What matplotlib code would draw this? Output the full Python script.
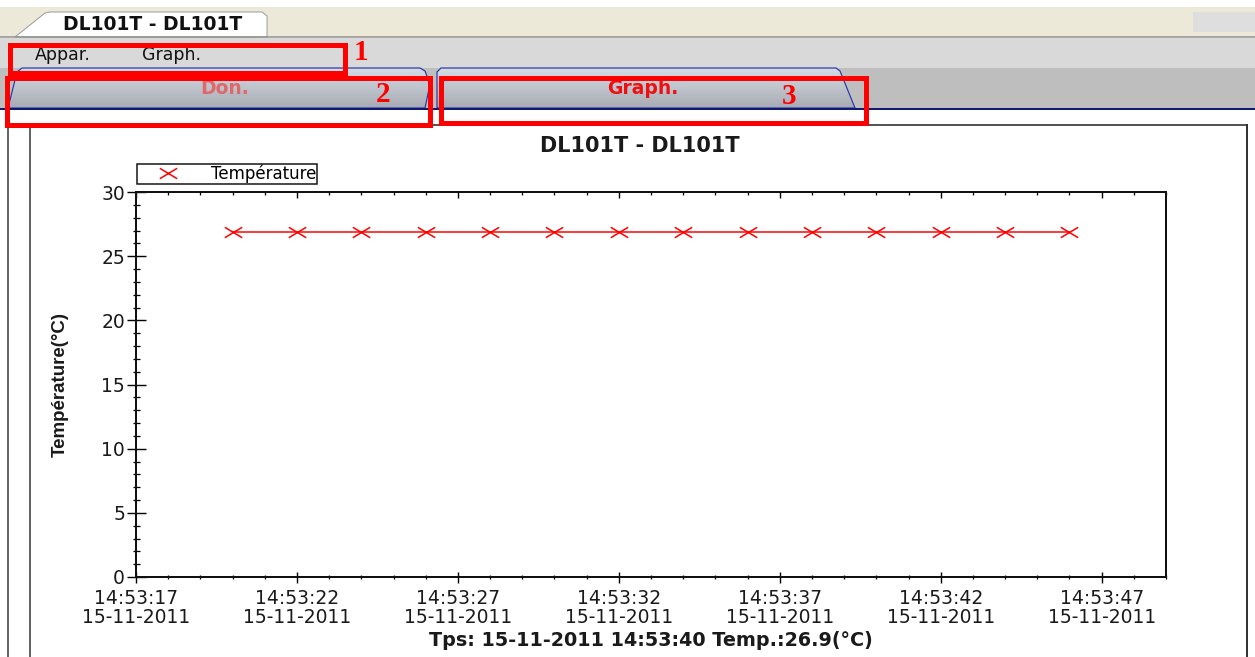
import numpy as np
import matplotlib
matplotlib.use("Agg")
import matplotlib.pyplot as plt
from matplotlib.patches import Rectangle, Polygon
from matplotlib.path import Path
from matplotlib.lines import Line2D
from matplotlib.ticker import FixedLocator, FixedFormatter, MultipleLocator

# ---------------- data ----------------
window_title = "DL101T - DL101T"
chart_title = "DL101T - DL101T"
date_str = "15-11-2011"
times = ["14:53:20", "14:53:22", "14:53:24", "14:53:26", "14:53:28", "14:53:30",
         "14:53:32", "14:53:34", "14:53:36", "14:53:38", "14:53:40", "14:53:42",
         "14:53:44", "14:53:46"]
temps = [26.9, 26.9, 26.9, 26.9, 26.9, 26.9, 26.9, 26.9, 26.9, 26.9, 26.9, 26.9,
         26.9, 26.9]
tick_times = ["14:53:17", "14:53:22", "14:53:27", "14:53:32", "14:53:37",
              "14:53:42", "14:53:47"]
x_range = ["14:53:17", "14:53:49"]
y_ticks = [0, 5, 10, 15, 20, 25, 30]
series_name = "Température"
y_label = "Température(°C)"
status_text = "Tps: 15-11-2011 14:53:40 Temp.:26.9(°C)"
menu_items = ["Appar.", "Graph."]
tab_names = ["Don.", "Graph."]
callouts = ["1", "2", "3"]


def to_sec(t):
    h, m, s = map(int, t.split(":"))
    return h * 3600 + m * 60 + s


W, H = 1255, 657
PX = 0.72  # points per pixel at 100 dpi
fig = plt.figure(figsize=(W / 100, H / 100), dpi=100)
fig.patch.set_facecolor("white")

# ---------------- UI background ----------------
bg = fig.add_axes([0, 0, 1, 1], zorder=0)
bg.set_xlim(0, W)
bg.set_ylim(H, 0)
bg.axis("off")

bg.add_patch(Rectangle((0, 7), W, 30, fc="#ECE9D8", ec="none"))
bg.plot([0, W], [36.5, 36.5], color="#8E8E8E", lw=1.5 * PX)
bg.add_patch(Rectangle((0, 37.5), W, 30.5, fc="#D9D9D9", ec="none"))
bg.add_patch(Rectangle((0, 68), W, 40, fc="#BEBEBE", ec="none"))
bg.add_patch(Rectangle((1193, 12), 62, 20, fc="#DEDEDE", ec="none"))

# document tab
doc_tab = Polygon([(15, 37), (45, 13), (50, 12), (262, 12), (267, 16), (267, 37)],
                  closed=True, fc="white", ec="#9C9C9C", lw=1 * PX)
bg.add_patch(doc_tab)
bg.text(153, 24, window_title, ha="center", va="center", fontsize=13.5,
        fontweight="bold", color="#111111", family="DejaVu Sans")

# menu bar
bg.text(35, 55, menu_items[0], ha="left", va="center", fontsize=12.5, color="#111111")
bg.text(142, 55, menu_items[1], ha="left", va="center", fontsize=12.5, color="#111111")

# tabs with gradient
grad = np.linspace(0, 1, 64)[:, None]
top_c = np.array([0.83, 0.86, 0.90])
bot_c = np.array([0.66, 0.67, 0.70])
grad_img = top_c[None, None, :] * (1 - grad[:, :, None]) + bot_c[None, None, :] * grad[:, :, None]

tab_shapes = [
    [(8, 108), (17, 72), (22, 68), (420, 68), (425, 71), (430, 84), (425, 108)],
    [(437, 108), (437, 72), (441, 68), (836, 68), (840, 71), (855, 108)],
]
tab_text_pos = [(225, 88), (643, 88)]
tab_colors = ["#E06868", "#EE1010"]
for shape, (tx, ty), tc, name in zip(tab_shapes, tab_text_pos, tab_colors, tab_names):
    poly = Polygon(shape, closed=True, fc="none", ec="#2838A8", lw=1.2 * PX, zorder=3)
    bg.add_patch(poly)
    xs_ = [p[0] for p in shape]
    im = bg.imshow(grad_img, extent=(min(xs_), max(xs_), 108, 68), origin="upper",
                   aspect="auto", zorder=2)
    im.set_clip_path(poly)
    bg.text(tx, ty, name, ha="center", va="center", fontsize=13.5, fontweight="bold",
            color=tc, zorder=4)

bg.plot([0, W], [108.5, 108.5], color="#101A70", lw=2 * PX, zorder=5)

# chart frame
bg.plot([8, 8], [109, H], color="#333333", lw=1.5 * PX)
bg.plot([30, 30], [125, H], color="#333333", lw=1.5 * PX)
bg.plot([30, 1247], [125, 125], color="#555555", lw=2 * PX)
bg.plot([1247, 1247], [125, H], color="#333333", lw=2 * PX)

# red callout boxes
boxes = [(9.5, 44.5, 335, 28), (6.5, 77.5, 423, 47), (440.5, 77.5, 425, 45)]
for (bx, by, bw, bh) in boxes:
    bg.add_patch(Rectangle((bx, by), bw, bh, fill=False, ec="#FF0000", lw=5 * PX,
                           joinstyle="miter", zorder=10))
callout_pos = [(361, 52), (383, 94), (789, 96)]
for (cx, cy), lab in zip(callout_pos, callouts):
    bg.text(cx, cy, lab, ha="center", va="center", fontsize=21, fontweight="bold",
            color="#FF0000", family=["Liberation Serif", "DejaVu Serif"], zorder=11)

# titles / status
bg.text(640, 146, chart_title, ha="center", va="center", fontsize=15,
        fontweight="bold", color="#1a1a1a", family="DejaVu Sans")
bg.text(651, 640, status_text, ha="center", va="center", fontsize=13.8,
        fontweight="bold", color="#1a1a1a", family="DejaVu Sans")

# ---------------- chart ----------------
ax = fig.add_axes([136 / W, (H - 577) / H, (1166 - 136) / W, (577 - 192) / H], zorder=1)
ax.set_facecolor("white")

xmark = Path([(-1, -0.6), (1, 0.6), (-1, 0.6), (1, -0.6)],
             [Path.MOVETO, Path.LINETO, Path.MOVETO, Path.LINETO])
xs = [to_sec(t) for t in times]
ax.plot(xs, temps, color="#FF0000", lw=1.5 * PX, marker=xmark, markersize=12.5,
        markeredgewidth=1.1, markeredgecolor="#FF0000")

ax.set_xlim(to_sec(x_range[0]), to_sec(x_range[1]))
ax.set_ylim(0, 30)
ax.xaxis.set_major_locator(FixedLocator([to_sec(t) for t in tick_times]))
ax.xaxis.set_major_formatter(FixedFormatter([f"{t}\n{date_str}" for t in tick_times]))
ax.xaxis.set_minor_locator(MultipleLocator(1))
ax.yaxis.set_major_locator(FixedLocator(y_ticks))
ax.yaxis.set_minor_locator(MultipleLocator(1))

for sp in ax.spines.values():
    sp.set_linewidth(2 * PX)
    sp.set_color("#111111")

ax.tick_params(axis="x", which="major", direction="inout", length=11 * PX, width=1.4 * PX,
               pad=5, labelsize=13.5, labelcolor="#1a1a1a")
ax.tick_params(axis="x", which="minor", direction="inout", length=5 * PX, width=1.3 * PX)
ax.tick_params(axis="y", which="major", direction="inout", length=19 * PX, width=1.4 * PX,
               pad=1, labelsize=13.5, labelcolor="#1a1a1a")
ax.tick_params(axis="y", which="minor", direction="inout", length=7 * PX, width=1.3 * PX)
for lab in ax.get_xticklabels():
    lab.set_linespacing(0.95)

sec = ax.secondary_xaxis("top")
sec.xaxis.set_major_locator(FixedLocator([to_sec(t) for t in tick_times]))
sec.xaxis.set_minor_locator(MultipleLocator(1))
sec.tick_params(which="major", direction="in", length=6 * PX, width=1.4 * PX, labeltop=False)
sec.tick_params(which="minor", direction="in", length=3 * PX, width=1.3 * PX)
sec.spines["top"].set_linewidth(2 * PX)

ax.set_ylabel(y_label, fontsize=13.5, fontweight="bold",
              family=["Liberation Sans", "DejaVu Sans"], color="#1a1a1a")
ax.yaxis.set_label_coords((69 - 136) / (1166 - 136), 0.5)

handle = Line2D([], [], ls="none", marker=xmark, markersize=12.5, markeredgewidth=1.1,
                markeredgecolor="#FF0000")
leg = ax.legend([handle], [series_name], loc="lower left",
                bbox_to_anchor=(137 / W, (H - 184) / H), bbox_transform=fig.transFigure,
                borderaxespad=0, fancybox=False, frameon=True, framealpha=1,
                edgecolor="#111111", borderpad=0.05, handlelength=3.6,
                handletextpad=0.8, prop={"size": 12, "family": "DejaVu Sans"})
leg.get_frame().set_linewidth(1.5 * PX)

fig.savefig("out.png", dpi=100)
